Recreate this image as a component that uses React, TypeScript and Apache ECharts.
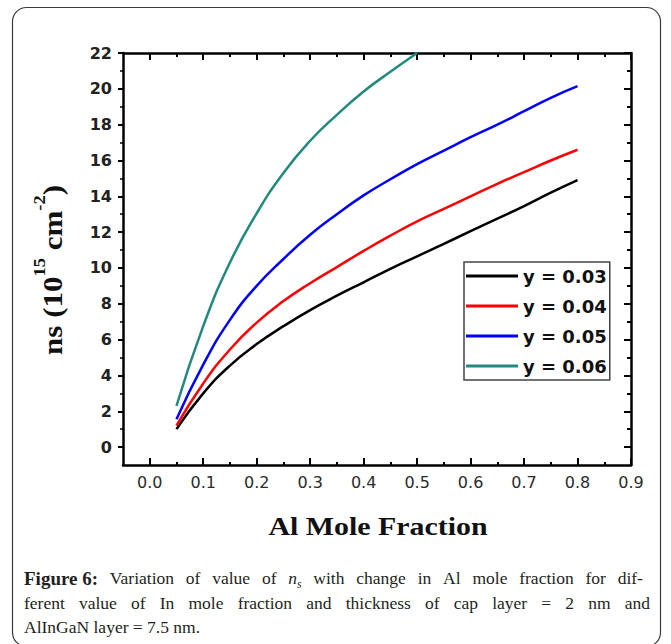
import React, { useEffect, useRef } from "react";
import * as echarts from "echarts";

// ---- data ----
const alFraction = [0.05, 0.1, 0.15, 0.2, 0.25, 0.3, 0.35, 0.4, 0.45, 0.5, 0.55, 0.6, 0.65, 0.7, 0.75, 0.8];
const nsY003 = [1.0, 3.0, 4.55, 5.75, 6.75, 7.65, 8.45, 9.2, 9.95, 10.65, 11.35, 12.05, 12.75, 13.45, 14.2, 14.9];
const nsY004 = [1.2, 3.55, 5.45, 6.95, 8.15, 9.15, 10.05, 10.95, 11.8, 12.6, 13.3, 14.0, 14.7, 15.35, 16.0, 16.6];
const nsY005 = [1.55, 4.6, 7.1, 9.0, 10.5, 11.85, 13.0, 14.05, 14.95, 15.8, 16.55, 17.3, 18.0, 18.75, 19.5, 20.15];
const nsY006 = [2.3, 6.75, 10.3, 13.05, 15.3, 17.1, 18.55, 19.85, 20.95, 22.0];

const seriesNames = ["y = 0.03", "y = 0.04", "y = 0.05", "y = 0.06"];
const seriesColors = ["#000000", "#ff0000", "#0000ff", "#21897e"];
const seriesValues = [nsY003, nsY004, nsY005, nsY006];

const xMajorTicks = [0, 0.1, 0.2, 0.3, 0.4, 0.5, 0.6, 0.7, 0.8, 0.9];
const xMinorTicks = [0.05, 0.15, 0.25, 0.35, 0.45, 0.55, 0.65, 0.75, 0.85];
const yMajorTicks = [0, 2, 4, 6, 8, 10, 12, 14, 16, 18, 20, 22];
const yMinorTicks = [1, 3, 5, 7, 9, 11, 13, 15, 17, 19, 21];

const xTitle = "Al Mole Fraction";
const captionLine1 = ["Figure", "6:", "Variation", "of", "value", "of", "n|s", "with", "change", "in", "Al", "mole", "fraction", "for", "dif-"];
const captionLine2 = ["ferent", "value", "of", "In", "mole", "fraction", "and", "thickness", "of", "cap", "layer", "=", "2", "nm", "and"];
const captionLine3 = "AlInGaN layer = 7.5 nm.";

const SERIF = '"Liberation Serif", "Times New Roman", serif';
const SANS = '"DejaVu Sans", Arial, sans-serif';

export default function App() {
  const ref = useRef<HTMLDivElement>(null);

  useEffect(() => {
    if (!ref.current) return;
    const chart = echarts.init(ref.current, undefined, { renderer: "svg" });

    const canvas = document.createElement("canvas");
    const ctx = canvas.getContext("2d")!;
    const capSize = 17.5;
    const boldSize = 19;
    const subSize = 11.5;
    const measure = (t: string, weight: string, style: string, size: number) => {
      ctx.font = `${style} ${weight} ${size}px ${SERIF}`;
      return ctx.measureText(t).width;
    };

    const captionEls: any[] = [];
    const left = 24;
    const right = 650;
    const justify = (words: string[], y: number, boldCount: number) => {
      const items = words.map((w, i) => {
        const bold = i < boldCount;
        if (w.includes("|")) {
          const [a, b] = w.split("|");
          const wa = measure(a, "normal", "italic", capSize);
          const wb = measure(b, "normal", "italic", subSize);
          return { w, width: wa + wb, a, b, wa, bold, sub: true };
        }
        return { w, width: measure(w, bold ? "bold" : "normal", "normal", bold ? boldSize : capSize), bold, sub: false } as any;
      });
      const total = items.reduce((s, it) => s + it.width, 0);
      const gap = (right - left - total) / (items.length - 1);
      let x = left;
      items.forEach((it: any, idx: number) => {
        if (it.sub) {
          captionEls.push({
            type: "text", x, y,
            style: { text: it.a, fontSize: capSize, fontFamily: SERIF, fontStyle: "italic", fill: "#231f20", align: "left", verticalAlign: "middle" },
          });
          captionEls.push({
            type: "text", x: x + it.wa, y: y + 6,
            style: { text: it.b, fontSize: subSize, fontFamily: SERIF, fontStyle: "italic", fill: "#231f20", align: "left", verticalAlign: "middle" },
          });
        } else {
          captionEls.push({
            type: "text", x, y,
            style: { text: it.w, fontSize: it.bold ? boldSize : capSize, fontFamily: SERIF, fontWeight: it.bold ? "bold" : "normal", fill: "#231f20", align: "left", verticalAlign: "middle" },
          });
        }
        // the bold label keeps a normal word space between its two words
        const g = it.bold && idx + 1 < boldCount ? measure(" ", "bold", "normal", boldSize) : gap;
        x += it.width + g;
      });
    };
    justify(captionLine1, 578, 2);
    justify(captionLine2, 603, 0);
    captionEls.push({
      type: "text", x: left, y: 627,
      style: { text: captionLine3, fontSize: capSize, fontFamily: SERIF, fill: "#231f20", align: "left", verticalAlign: "middle" },
    });

    const gridRect = { left: 123, right: 40, top: 53, bottom: 179 };
    const lineBlack = { show: true, onZero: false, lineStyle: { color: "#000", width: 2.5 } };
    const noLine = { show: false, onZero: false };

    const option: any = {
      animation: false,
      backgroundColor: "#ffffff",
      grid: [
        { ...gridRect, containLabel: false },
        { ...gridRect, containLabel: false },
      ],
      xAxis: [
        {
          type: "value", gridIndex: 0, position: "bottom", min: -0.05, max: 0.9,
          axisLine: lineBlack,
          axisTick: { show: true, inside: true, length: 7, customValues: xMajorTicks, lineStyle: { color: "#000", width: 2 } },
          axisLabel: {
            show: true, customValues: xMajorTicks, margin: 9,
            formatter: (v: number) => v.toFixed(1),
            fontFamily: SANS, fontSize: 16, color: "#2b2b2b",
          },
          splitLine: { show: false },
        },
        {
          type: "value", gridIndex: 0, position: "top", min: -0.05, max: 0.9,
          axisLine: lineBlack,
          axisTick: { show: true, inside: true, length: 7, customValues: xMajorTicks, lineStyle: { color: "#000", width: 2 } },
          axisLabel: { show: false },
          splitLine: { show: false },
        },
        {
          type: "value", gridIndex: 1, position: "bottom", min: -0.05, max: 0.9,
          axisLine: noLine,
          axisTick: { show: true, inside: true, length: 3, customValues: xMinorTicks, lineStyle: { color: "#000", width: 2 } },
          axisLabel: { show: false },
          splitLine: { show: false },
        },
        {
          type: "value", gridIndex: 1, position: "top", min: -0.05, max: 0.9,
          axisLine: noLine,
          axisTick: { show: true, inside: true, length: 4, customValues: xMinorTicks, lineStyle: { color: "#000", width: 2 } },
          axisLabel: { show: false },
          splitLine: { show: false },
        },
      ],
      yAxis: [
        {
          type: "value", gridIndex: 0, position: "left", min: -1, max: 22,
          axisLine: lineBlack,
          axisTick: { show: true, inside: false, length: 5, customValues: yMajorTicks, lineStyle: { color: "#000", width: 2 } },
          axisLabel: {
            show: true, customValues: yMajorTicks, margin: 11,
            fontFamily: SANS, fontWeight: "bold", fontSize: 16, color: "#222",
          },
          splitLine: { show: false },
        },
        {
          type: "value", gridIndex: 0, position: "right", min: -1, max: 22,
          axisLine: lineBlack,
          axisTick: { show: true, inside: true, length: 7, customValues: yMajorTicks, lineStyle: { color: "#000", width: 2 } },
          axisLabel: { show: false },
          splitLine: { show: false },
        },
        {
          type: "value", gridIndex: 1, position: "left", min: -1, max: 22,
          axisLine: noLine,
          axisTick: { show: true, inside: false, length: 3, customValues: yMinorTicks, lineStyle: { color: "#000", width: 1.5 } },
          axisLabel: { show: false },
          splitLine: { show: false },
        },
        {
          type: "value", gridIndex: 1, position: "right", min: -1, max: 22,
          axisLine: noLine,
          axisTick: { show: true, inside: true, length: 4, customValues: yMinorTicks, lineStyle: { color: "#000", width: 2 } },
          axisLabel: { show: false },
          splitLine: { show: false },
        },
      ],
      legend: {
        show: true,
        orient: "vertical",
        left: 464,
        top: 262,
        data: seriesNames,
        icon: "rect",
        itemWidth: 52,
        itemHeight: 3,
        itemGap: 10,
        padding: [4, 3, 4, 2],
        borderColor: "#444",
        borderWidth: 1.5,
        backgroundColor: "#fff",
        textStyle: { fontFamily: SANS, fontWeight: "bold", fontSize: 18, color: "#111", lineHeight: 20 },
      },
      series: seriesNames.map((name, i) => ({
        name,
        type: "line",
        xAxisIndex: 0,
        yAxisIndex: 0,
        showSymbol: false,
        smooth: 0.5,
        clip: true,
        color: seriesColors[i],
        lineStyle: { color: seriesColors[i], width: 2.5 },
        data: seriesValues[i].map((v, k) => [alFraction[k], v]),
      })),
      graphic: [
        {
          type: "rect",
          shape: { x: 12.5, y: 7.5, width: 648, height: 639, r: 14 },
          style: { fill: "none", stroke: "#3a3a3a", lineWidth: 1.2 },
          silent: true,
          z: -1,
        },
        {
          type: "text",
          x: 378, y: 526, scaleX: 1.15,
          style: { text: xTitle, fontFamily: SERIF, fontWeight: "bold", fontSize: 26, fill: "#111", align: "center", verticalAlign: "middle" },
        },
        {
          type: "text",
          x: 49, y: 270, rotation: Math.PI / 2, scaleX: 1.15,
          style: {
            text: "{m|ns (10}{s|15}{m| cm}{s|-2}{m|)}",
            align: "center",
            verticalAlign: "middle",
            fill: "#111",
            rich: {
              m: { fontFamily: SERIF, fontWeight: "bold", fontSize: 27, lineHeight: 34, verticalAlign: "bottom", fill: "#111" },
              s: { fontFamily: SERIF, fontWeight: "bold", fontSize: 16, lineHeight: 34, verticalAlign: "top", fill: "#111" },
            },
          },
        },
        ...captionEls,
      ],
    };

    chart.setOption(option);
    return () => chart.dispose();
  }, []);

  return (
    <div
      ref={ref}
      style={{ position: "absolute", left: 0, top: 0, width: 671, height: 644 }}
    />
  );
}
